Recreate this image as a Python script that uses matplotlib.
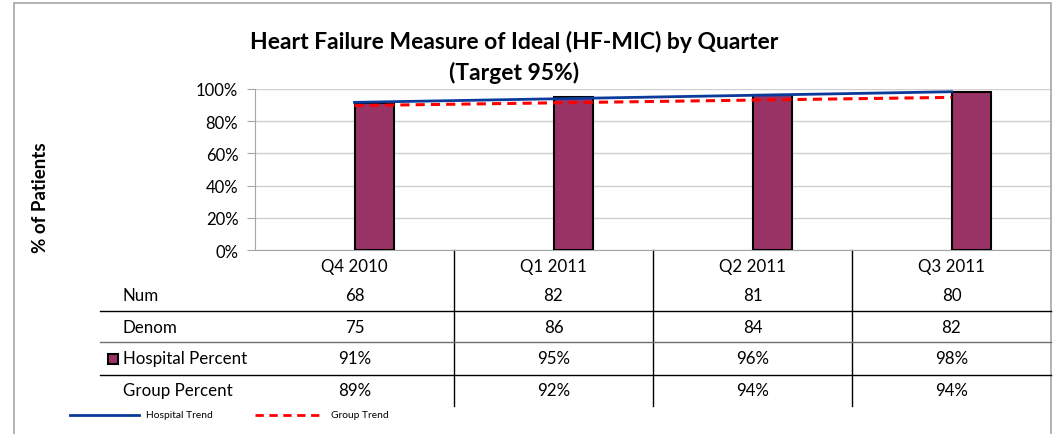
import numpy as np
import matplotlib
matplotlib.use("Agg")
import matplotlib.pyplot as plt
from matplotlib.transforms import blended_transform_factory
from matplotlib.patches import Rectangle
from matplotlib.lines import Line2D

plt.rcParams["font.family"] = ["Lato", "DejaVu Sans"]

# --- data ---
quarters = ["Q4 2010", "Q1 2011", "Q2 2011", "Q3 2011"]
num = [68, 82, 81, 80]
denom = [75, 86, 84, 82]
hospital_pct = [91, 95, 96, 98]
group_pct = [89, 92, 94, 94]

W, H = 1056, 435
fig = plt.figure(figsize=(W / 100, H / 100), dpi=100)

def px(x0, y0, x1, y1):
    # pixel box (top-left origin) -> figure fraction rect
    return [x0 / W, 1 - y1 / H, (x1 - x0) / W, (y1 - y0) / H]

def fy(y):
    return 1 - y / H

# outer chart frame
fig.add_artist(Rectangle((14 / W, -0.05), (1051 - 14) / W, 1 - 4 / H + 0.05,
                         transform=fig.transFigure, fill=False,
                         edgecolor="#a6a6a6", lw=1.2))

ax = fig.add_axes(px(255, 90, 1051, 251))
x = np.arange(len(quarters))
hp = np.array(hospital_pct) / 100
gp = np.array(group_pct) / 100

ax.bar(x, hp, width=0.2, align="edge", color="#993366",
       edgecolor="black", linewidth=1.5, zorder=3)

# linear trend lines (as Excel draws them)
hfit = np.polyfit(x, hp, 1)
gfit = np.polyfit(x, gp, 1)
ax.plot(x, np.polyval(hfit, x), color="#0a3a9a", lw=2, zorder=4)
ax.plot(x, np.polyval(gfit, x), color="red", lw=2.2, ls=(0, (3, 2)), zorder=4)

ax.set_xlim(-0.5, 3.5)
ax.set_ylim(0, 1)
yt = np.arange(0, 1.01, 0.2)
ax.set_yticks(yt)
ax.set_yticklabels([f"{int(round(v * 100))}%" for v in yt], fontsize=12)
ax.set_xticks([])
ax.grid(axis="y", color="#d0d0d0", lw=1, zorder=0)
for s in ["top", "right"]:
    ax.spines[s].set_visible(False)
ax.spines["left"].set_color("#a6a6a6")
ax.spines["bottom"].set_color("#a6a6a6")
ax.tick_params(axis="y", direction="out", length=6, color="#a6a6a6", pad=6)

fig.text(40 / W, fy(198), "% of Patients", rotation=90, ha="center", va="center",
         fontsize=13.5, fontweight="bold")

fig.text(514 / W, fy(42), "Heart Failure Measure of Ideal (HF-MIC) by Quarter",
         ha="center", va="center", fontsize=16.5, fontweight="bold")
fig.text(514 / W, fy(73), "(Target 95%)",
         ha="center", va="center", fontsize=16.5, fontweight="bold")

# --- data table below the axis ---
tr = blended_transform_factory(ax.transData, fig.transFigure)
fs = 12.2
for i, q in enumerate(quarters):
    ax.text(i, fy(267), q, transform=tr, ha="center", va="center", fontsize=fs)
    ax.text(i, fy(296), str(num[i]), transform=tr, ha="center", va="center", fontsize=fs)
    ax.text(i, fy(328), str(denom[i]), transform=tr, ha="center", va="center", fontsize=fs)
    ax.text(i, fy(359), f"{hospital_pct[i]}%", transform=tr, ha="center", va="center", fontsize=fs)
    ax.text(i, fy(391), f"{group_pct[i]}%", transform=tr, ha="center", va="center", fontsize=fs)

row_labels = ["Num", "Denom", "Hospital Percent", "Group Percent"]
for lab, yy in zip(row_labels, [296, 328, 359, 391]):
    fig.text(123 / W, fy(yy), lab, ha="left", va="center", fontsize=fs)
fig.add_artist(Rectangle((108 / W, fy(365)), 10 / W, 10 / H, transform=fig.transFigure,
                         facecolor="#993366", edgecolor="black", lw=1.5))

for yy, c in zip([312, 343, 376], ["black", "#707070", "black"]):
    fig.add_artist(Line2D([100 / W, 1051 / W], [fy(yy), fy(yy)],
                          transform=fig.transFigure, color=c, lw=1))
for b in [0.5, 1.5, 2.5]:
    ax.add_artist(Line2D([b, b], [fy(251), fy(407)], transform=tr,
                         color="black", lw=1, clip_on=False))

# legend for trend lines
fig.add_artist(Line2D([70 / W, 139 / W], [fy(416), fy(416)], transform=fig.transFigure,
                      color="#0a3a9a", lw=2))
fig.text(146 / W, fy(416), "Hospital Trend", ha="left", va="center", fontsize=7.4)
fig.add_artist(Line2D([255 / W, 320 / W], [fy(416), fy(416)], transform=fig.transFigure,
                      color="red", lw=2, ls=(0, (3, 2))))
fig.text(331 / W, fy(416), "Group Trend", ha="left", va="center", fontsize=7.4)

fig.savefig("out.png", dpi=100)
